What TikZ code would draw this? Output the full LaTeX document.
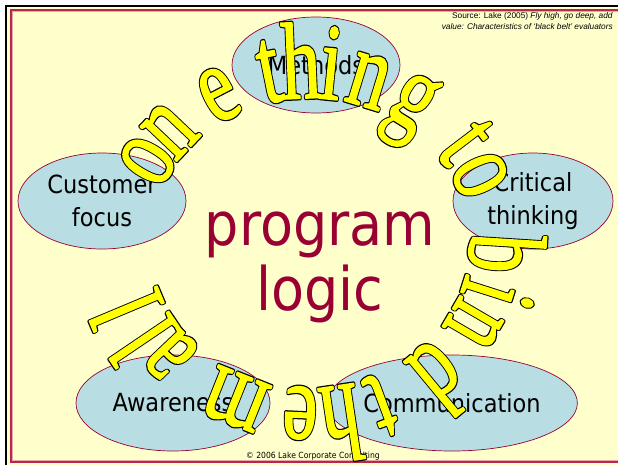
\documentclass[tikz,border=0pt]{standalone}
\usepackage{fontspec}
\usetikzlibrary{shapes.geometric}
\newfontfamily\lblfont[FakeStretch=0.9]{DejaVu Sans}
\newfontfamily\srcfont{Liberation Sans}
\newfontfamily\ringfont{Liberation Serif}
\definecolor{cream}{HTML}{FFFFCC}
\definecolor{blobblue}{HTML}{B8DEE4}
\definecolor{wine}{HTML}{990033}
\definecolor{framered}{HTML}{B8284E}
\definecolor{framepink}{HTML}{E8A6A6}
\definecolor{ringyellow}{HTML}{FFFF00}
% black, wide outline layer
\newcommand\outlA[1]{\special{pdf:literal direct 0 0 0 RG 3 w 1 j 2 Tr}#1\special{pdf:literal direct 0 Tr}}
% yellow, slightly emboldened fill layer
\newcommand\outlB[1]{\special{pdf:literal direct 1 1 0 RG 1.2 w 1 j 2 Tr}#1\special{pdf:literal direct 0 Tr}}
\begin{document}
\begin{tikzpicture}[x=1pt,y=-1pt,
  blob/.style={ellipse, draw=wine, line width=0.7pt, fill=blobblue, inner sep=0pt, align=center,
    font=\lblfont\fontsize{25}{33}\selectfont},
  big/.style={text=wine, font=\lblfont\fontsize{60}{65}\selectfont, anchor=base, inner sep=0pt},
  ring/.style={text=ringyellow, font=\ringfont\fontsize{78}{78}\selectfont, anchor=base, inner sep=0pt},
  src/.style={font=\srcfont\fontsize{8.3}{10}\selectfont, anchor=base east, inner sep=0pt},
  copy/.style={font=\lblfont\fontsize{8.5}{10}\selectfont, anchor=base, inner sep=0pt}]
\useasboundingbox (0,0) rectangle (618,464);
\fill[white] (0,0) rectangle (618,464);
\fill[cream] (6,6) rectangle (640,480);
\draw[black, line width=2.5pt] (6,6) rectangle (640,480);
\draw[framepink, line width=1pt] (12,11.5) rectangle (630,460.5);
\draw[framered, line width=2pt] (10.5,10) rectangle (630,462);

\node[src] (src1) at (613,18) {Source: Lake (2005) \textit{Fly high, go deep, add}};
\node[src] (src2) at (613,29) {\textit{value: Characteristics of ‘black belt’ evaluators}};

\node[blob, minimum width=168pt, minimum height=96pt] (meth) at (316,65) {Methods};
\node[blob, minimum width=168pt, minimum height=96pt] (cust) at (102,201) {Customer\\focus};
\node[blob, minimum width=160pt, minimum height=96pt] (crit) at (533,201) {Critical\\thinking};
\node[blob, minimum width=194pt, minimum height=96pt] (awar) at (173,403) {Awareness};
\node[blob, minimum width=216pt, minimum height=96pt] (comm) at (452,403) {Communication};

\node[big] (prog) at (320,245) {program};
\node[big] (logi) at (320,310) {logic};

\node[copy] (copyr) at (313,458) {© 2006 Lake Corporate Consulting};

\def\cx{310}\def\cy{243}\def\ra{160}\def\rb{145}
\def\ringletters{o/153.8, n/142.1, e/122.3, t/103.8, h/93, i/82.9, n/69.6, g/53.1,
   t/32, o/21.2, b/-3, i/-14.7, n/-25.6, d/-44.8, t/-65.7, h/-79.7, e/-93.4, m/-116,
   a/-142, l/-150.9, l/-161}
\foreach \layer in {A,B} {
  \foreach \ch/\ang [count=\k] in \ringletters {
    \pgfmathsetmacro\tpar{atan2(\ra*sin(\ang), \rb*cos(\ang))}
    \pgfmathsetmacro\px{\cx+\ra*cos(\tpar)}
    \pgfmathsetmacro\py{\cy-\rb*sin(\tpar)}
    \pgfmathsetmacro\rot{atan2(\ra*sin(\tpar), \rb*cos(\tpar))-90}
    \node[ring, rotate=\rot] (L\layer\k) at (\px,\py)
      {\csname outl\layer\endcsname{\scalebox{1}[1.4]{\ch}}};
  }
}
\end{tikzpicture}
\end{document}
